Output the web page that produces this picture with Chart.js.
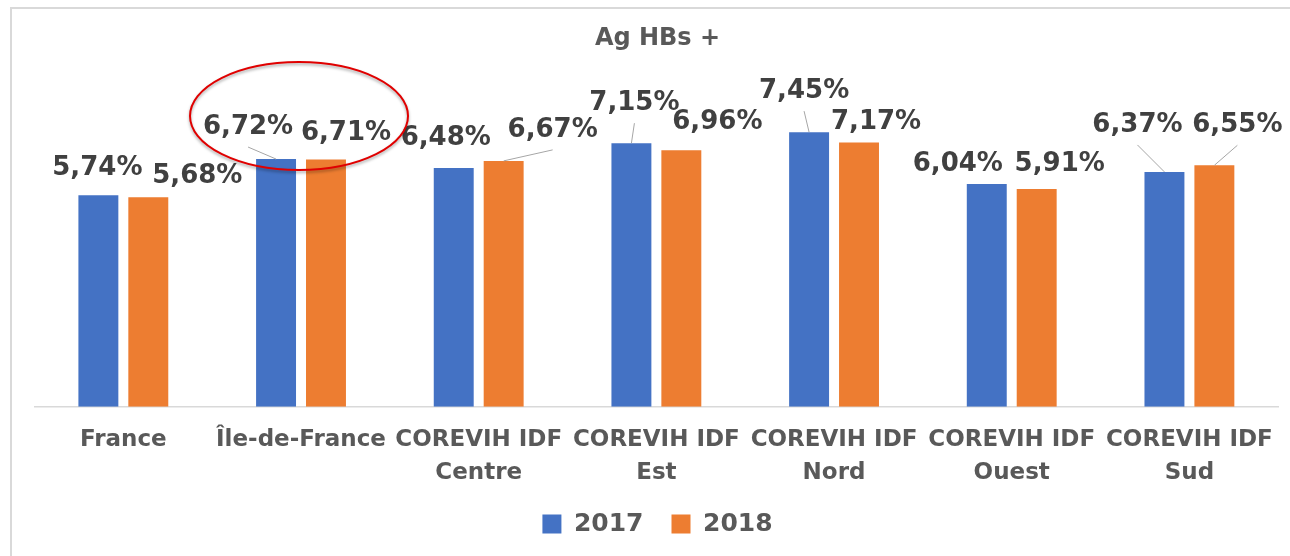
<!DOCTYPE html>
<html>
<head>
<meta charset="utf-8">
<script src="https://cdn.jsdelivr.net/npm/chart.js@4/dist/chart.umd.min.js"></script>
<style>
  html, body { margin: 0; padding: 0; background: #fff; }
  #wrap { width: 1290px; height: 556px; position: relative; }
</style>
</head>
<body>
<div id="wrap"><canvas id="chart"></canvas></div>
<script>
/* ─── data ─── */
const categories = [
  'France',
  'Île-de-France',
  ['COREVIH IDF', 'Centre'],
  ['COREVIH IDF', 'Est'],
  ['COREVIH IDF', 'Nord'],
  ['COREVIH IDF', 'Ouest'],
  ['COREVIH IDF', 'Sud'],
];
const years = ['2017', '2018'];
const values2017 = [5.74, 6.72, 6.48, 7.15, 7.45, 6.04, 6.37];
const values2018 = [5.68, 6.71, 6.67, 6.96, 7.17, 5.91, 6.55];
const yTicks = [0, 9];

/* label placement (px from bar top), as in the original sheet */
const labelShift2017 = [[-1, -27], [-28, -32], [-8, -30], [3, -40], [-5, -41], [-29, -20], [-27, -47]];
const labelShift2018 = [[49, -21], [20, -26], [49, -31], [36, -28], [17, -20], [23, -25], [23, -40]];
const leaders2017 = [1, 3, 4, 6];
const leaders2018 = [2, 6];

const BLUE = '#4472C4';
const ORANGE = '#ED7D31';
const FONT = "'DejaVu Sans', sans-serif";

const fmt = (v) => v.toFixed(2).replace('.', ',') + '%';

/* ─── frame round the chart ─── */
const framePlugin = {
  id: 'frame',
  beforeDraw(chart) {
    const c = chart.ctx;
    c.save();
    c.strokeStyle = '#D9D9D9';
    c.lineWidth = 2;
    c.beginPath();
    c.moveTo(11, chart.height);
    c.lineTo(11, 8);
    c.lineTo(chart.width, 8);
    c.stroke();
    c.restore();
  },
};

/* ─── value labels with leader lines ─── */
const valueLabels = {
  id: 'valueLabels',
  afterDatasetsDraw(chart) {
    const c = chart.ctx;
    const sets = [
      { vals: values2017, shift: labelShift2017, leaders: leaders2017 },
      { vals: values2018, shift: labelShift2018, leaders: leaders2018 },
    ];
    c.save();
    c.font = `bold 26px ${FONT}`;
    c.textAlign = 'center';
    c.textBaseline = 'middle';
    sets.forEach((s, di) => {
      chart.getDatasetMeta(di).data.forEach((bar, i) => {
        const lx = bar.x + s.shift[i][0];
        const ly = bar.y + s.shift[i][1];
        if (s.leaders.includes(i)) {
          c.strokeStyle = '#A6A6A6';
          c.lineWidth = 1;
          c.beginPath();
          c.moveTo(bar.x, bar.y);
          c.lineTo(lx, ly + 20);
          c.stroke();
        }
        c.fillStyle = '#404040';
        c.fillText(fmt(s.vals[i]), lx, ly);
      });
    });

    // red ring round Île-de-France
    const x = chart.scales.x.getPixelForValue(1) - 2;
    const y = chart.scales.y.getPixelForValue(values2017[1]) - 43;
    c.shadowColor = 'rgba(0,0,0,0.35)';
    c.shadowBlur = 3;
    c.shadowOffsetY = 2;
    c.strokeStyle = '#E00000';
    c.lineWidth = 2;
    c.beginPath();
    c.ellipse(x, y, 109, 54, 0, 0, Math.PI * 2);
    c.stroke();
    c.restore();
  },
};

new Chart(document.getElementById('chart'), {
  type: 'bar',
  data: {
    labels: categories,
    datasets: [
      { label: years[0], data: values2017, backgroundColor: BLUE },
      { label: years[1], data: values2018, backgroundColor: ORANGE },
    ],
  },
  options: {
    responsive: true,
    maintainAspectRatio: false,
    animation: false,
    categoryPercentage: 0.562,
    barPercentage: 0.8,
    layout: { padding: { left: 34.5, right: 9.5, top: 0, bottom: 9.5 } },
    plugins: {
      title: {
        display: true,
        text: 'Ag HBs +',
        color: '#595959',
        font: { family: FONT, size: 24, weight: 'bold', lineHeight: 1.2 },
        padding: { top: 24, bottom: 22.2 },
      },
      legend: {
        position: 'bottom',
        labels: {
          color: '#595959',
          font: { family: FONT, size: 25, weight: 'bold' },
          boxWidth: 19,
          boxHeight: 19,
          padding: 28,
        },
      },
      tooltip: { enabled: false },
    },
    scales: {
      x: {
        grid: { display: false, drawTicks: false },
        border: { display: true, color: '#D9D9D9', width: 1.5 },
        ticks: {
          color: '#595959',
          padding: 16.5,
          maxRotation: 0,
          autoSkip: false,
          font: { family: FONT, size: 23, weight: 'bold', lineHeight: 1.43 },
        },
        afterFit: (scale) => { scale.height -= 22; },
      },
      y: {
        display: false,
        min: yTicks[0],
        max: yTicks[1],
      },
    },
  },
  plugins: [framePlugin, valueLabels],
});
</script>
</body>
</html>
